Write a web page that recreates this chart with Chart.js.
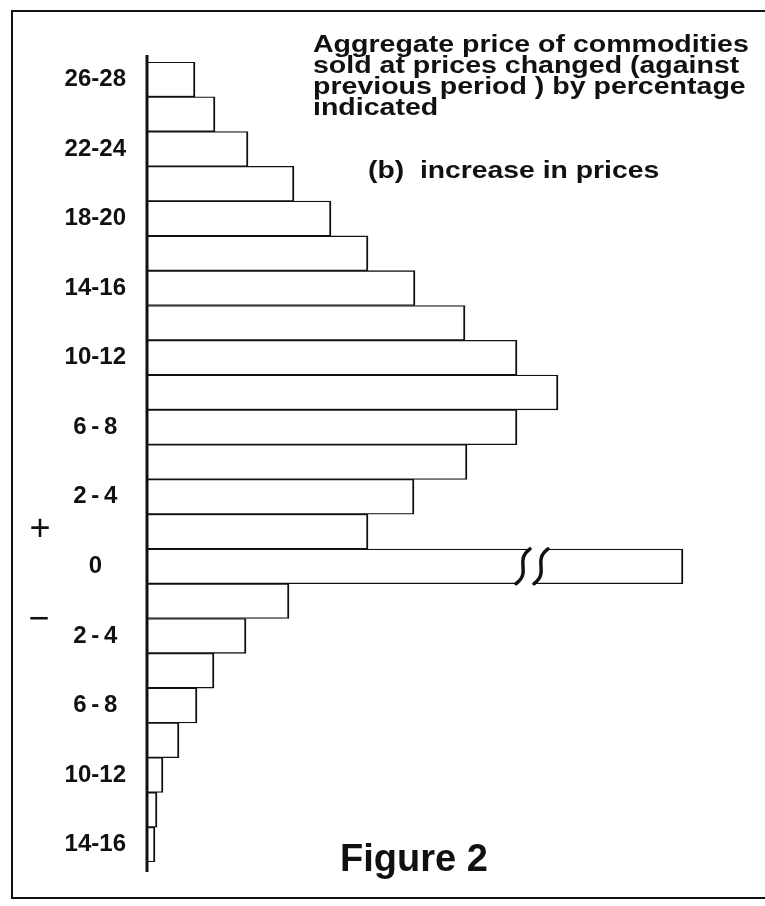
<!DOCTYPE html>
<html>
<head>
<meta charset="utf-8">
<script src="https://cdn.jsdelivr.net/npm/chart.js@4.4.1/dist/chart.umd.min.js"></script>
<style>
  html, body { margin: 0; padding: 0; background: #fff; }
  #wrap { width: 765px; height: 906px; }
</style>
</head>
<body>
<div id="wrap"><canvas id="fig" width="765" height="906"></canvas></div>
<script>
// price change classes, % (top: rises, bottom: falls)
const categories = [
    '+26-28', '+24-26', '+22-24', '+20-22', '+18-20', '+16-18', '+14-16',
    '+12-14', '+10-12', '+8-10', '+6-8', '+4-6', '+2-4', '+0-2',
    '0',
    '-0-2', '-2-4', '-4-6', '-6-8', '-8-10', '-10-12', '-12-14', '-14-16'
];
// only every other class is labelled on the figure
const tickLabels = [
    '26-28', '', '22-24', '', '18-20', '', '14-16',
    '', '10-12', '', '6\u2009-\u20098', '', '2\u2009-\u20094', '',
    '0',
    '', '2\u2009-\u20094', '', '6\u2009-\u20098', '', '10-12', '', '14-16'
];
// aggregate price (arbitrary units)
const aggregate = [
    4.8, 6.8, 10.1, 14.7, 18.4, 22.1, 26.8,
    31.8, 37.0, 41.1, 37.0, 32.0, 26.7, 22.1,
    53.6,
    14.2, 9.9, 6.7, 5.0, 3.2, 1.6, 1.0, 0.8
];
// the "0" bar is drawn broken between these two values
const breakIndex = 14;
const breakFrom = 37.6;
const breakTo = 39.4;

const titleLines = [
    'Aggregate price of commodities',
    'sold at prices changed (against',
    'previous period ) by percentage',
    'indicated'
];
const subTitle = '(b)  increase in prices';
const caption = 'Figure 2';

const ink = '#111';
const sans = '"Liberation Sans", Arial, sans-serif';

const figureDecor = {
    id: 'figureDecor',
    afterDatasetsDraw(chart) {
        const ctx = chart.ctx;
        const area = chart.chartArea;
        const x = chart.scales.x;

        // broken bar
        const bar = chart.getDatasetMeta(0).data[breakIndex];
        const top = bar.y - bar.height / 2;
        const bottom = bar.y + bar.height / 2;
        const h = bar.height;
        const xa = x.getPixelForValue(breakFrom);
        const xb = x.getPixelForValue(breakTo);
        const squiggle = (cx) => {
            ctx.moveTo(cx + 7, top);
            ctx.bezierCurveTo(cx - 9, top + h * 0.35, cx + 9, top + h * 0.65, cx - 7, bottom);
        };
        ctx.save();
        ctx.fillStyle = '#fff';
        ctx.beginPath();
        ctx.moveTo(xa + 7, top - 2);
        ctx.lineTo(xb + 7, top - 2);
        ctx.lineTo(xb + 7, top);
        ctx.bezierCurveTo(xb - 9, top + h * 0.35, xb + 9, top + h * 0.65, xb - 7, bottom);
        ctx.lineTo(xb - 7, bottom + 2);
        ctx.lineTo(xa - 7, bottom + 2);
        ctx.lineTo(xa - 7, bottom);
        ctx.bezierCurveTo(xa + 9, top + h * 0.65, xa - 9, top + h * 0.35, xa + 7, top);
        ctx.closePath();
        ctx.fill();
        ctx.strokeStyle = ink;
        ctx.lineWidth = 3.5;
        ctx.lineCap = 'round';
        ctx.beginPath();
        squiggle(xa);
        squiggle(xb);
        ctx.stroke();

        // vertical axis line
        ctx.lineWidth = 3;
        ctx.lineCap = 'butt';
        ctx.beginPath();
        ctx.moveTo(area.left, area.top - 7);
        ctx.lineTo(area.left, area.bottom + 10);
        ctx.stroke();

        // frame (right side runs off the page)
        ctx.lineWidth = 2;
        ctx.beginPath();
        ctx.moveTo(765, 11);
        ctx.lineTo(12, 11);
        ctx.lineTo(12, 898);
        ctx.lineTo(765, 898);
        ctx.stroke();

        // texts, drawn a little extended like the original lettering
        const wide = (t, tx, ty, sx) => {
            ctx.save();
            ctx.translate(tx, ty);
            ctx.scale(sx, 1);
            ctx.fillText(t, 0, 0);
            ctx.restore();
        };
        ctx.fillStyle = ink;
        ctx.textAlign = 'left';
        ctx.textBaseline = 'alphabetic';
        ctx.font = 'bold 23px ' + sans;
        titleLines.forEach((t, i) => wide(t, 313, 52 + i * 21, 1.24));
        ctx.font = 'bold 24px ' + sans;
        wide(subTitle, 368, 178, 1.18);

        ctx.font = 'bold 38px ' + sans;
        ctx.fillText(caption, 340, 871);

        ctx.textAlign = 'center';
        ctx.textBaseline = 'middle';
        ctx.font = '36px ' + sans;
        ctx.fillText('+', 40, 530);
        ctx.fillText('\u2212', 39, 620);
        ctx.restore();
    }
};

new Chart(document.getElementById('fig'), {
    type: 'bar',
    data: {
        labels: categories,
        datasets: [{
            data: aggregate,
            backgroundColor: '#fff',
            borderColor: ink,
            borderWidth: {top: 1.3, bottom: 1.3, right: 2, left: 0},
            barPercentage: 1,
            categoryPercentage: 1
        }]
    },
    options: {
        indexAxis: 'y',
        responsive: false,
        animation: false,
        layout: {padding: {top: 62, bottom: 44, left: 0, right: 18}},
        scales: {
            x: {display: false, min: 0, max: 60},
            y: {
                grid: {display: false},
                border: {display: false},
                afterFit: (scale) => { scale.width = 147; },
                ticks: {
                    autoSkip: false,
                    crossAlign: 'center',
                    padding: 13,
                    color: ink,
                    font: {family: sans, size: 24, weight: 'bold'},
                    callback: (value, index) => tickLabels[index]
                }
            }
        },
        plugins: {
            legend: {display: false},
            tooltip: {enabled: false}
        }
    },
    plugins: [figureDecor]
});
</script>
</body>
</html>
